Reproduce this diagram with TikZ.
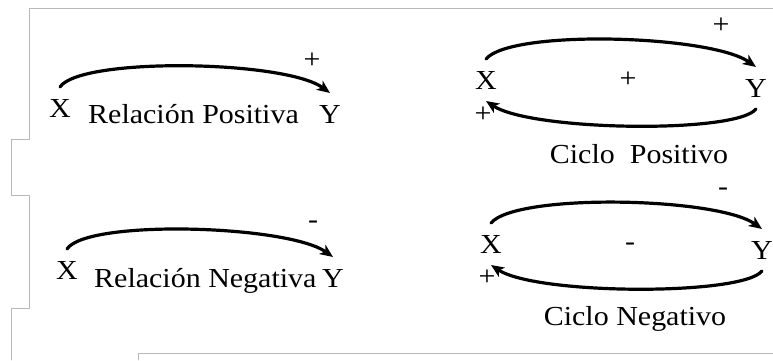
\documentclass[tikz,border=0pt]{standalone}
\usepackage{fontspec}
\setmainfont{Liberation Serif}[FakeStretch=1.09]
\usetikzlibrary{arrows.meta}
\begin{document}
\begin{tikzpicture}[x=1pt, y=-1pt, line cap=round, line join=round,
    var/.style={font=\fontsize{27.5}{30}\selectfont, inner sep=2pt, outer sep=10pt, anchor=base},
    lbl/.style={font=\fontsize{27.5}{30}\selectfont, inner sep=0pt, anchor=base},
    sign/.style={font=\fontsize{27.5}{30}\selectfont, inner sep=0pt},
    link/.style={line width=3.2pt, -{Stealth[length=13pt,width=11pt,inset=3.5pt]}},
    frame/.style={black!28, line width=0.9pt}]
    \useasboundingbox (0,0) rectangle (773,360);
    \draw[frame] (773,8) -- (29,8) -- (29,139) -- (11,139) -- (11,195) -- (29,195) -- (29,308) -- (11,308) -- (11,360);
    \draw[frame] (138,360) -- (138,353) -- (773,353);

    \node[var] (xp) at (60,117) {X};
    \node[var] (yp) at (330,123) {Y};
    \node[lbl, anchor=base west] (rp) at (88,123) {Relación Positiva};
    \node[sign] (sp) at (312,61) {+};
    \draw[link] (xp.north) .. controls +(20,-30) and +(-45,-33) .. (yp.north);

    \node[var] (xc) at (486,89) {X};
    \node[var] (yc) at (756,97) {Y};
    \node[sign] (sc1) at (721,26) {+};
    \node[sign] (sc2) at (628,80) {+};
    \node[sign] (sc3) at (483,115) {+};
    \node[lbl] (cp) at (639,163) {Ciclo~ Positivo};
    \draw[link] (xc.north) .. controls +(25,-30) and +(-45,-32) .. (yc.north);
    \draw[link] (yc.south) .. controls +(-20,25) and +(45,30) .. (xc.south);

    \node[var] (xn) at (67,279) {X};
    \node[var] (yn) at (333,287) {Y};
    \node[lbl, anchor=base west] (rn) at (94,287) {Relación Negativa};
    \node[sign] (sn) at (313,225) {-};
    \draw[link] (xn.north) .. controls +(20,-30) and +(-45,-32) .. (yn.north);

    \node[var] (xq) at (491,253) {X};
    \node[var] (yq) at (762,259) {Y};
    \node[sign] (sq1) at (723,192) {-};
    \node[sign] (sq2) at (630,247) {-};
    \node[sign] (sq3) at (487,278) {+};
    \node[lbl] (cn) at (635,325) {Ciclo Negativo};
    \draw[link] (xq.north) .. controls +(25,-30) and +(-45,-32) .. (yq.north);
    \draw[link] (yq.south) .. controls +(-20,25) and +(45,30) .. (xq.south);
  \end{tikzpicture}
\end{document}
